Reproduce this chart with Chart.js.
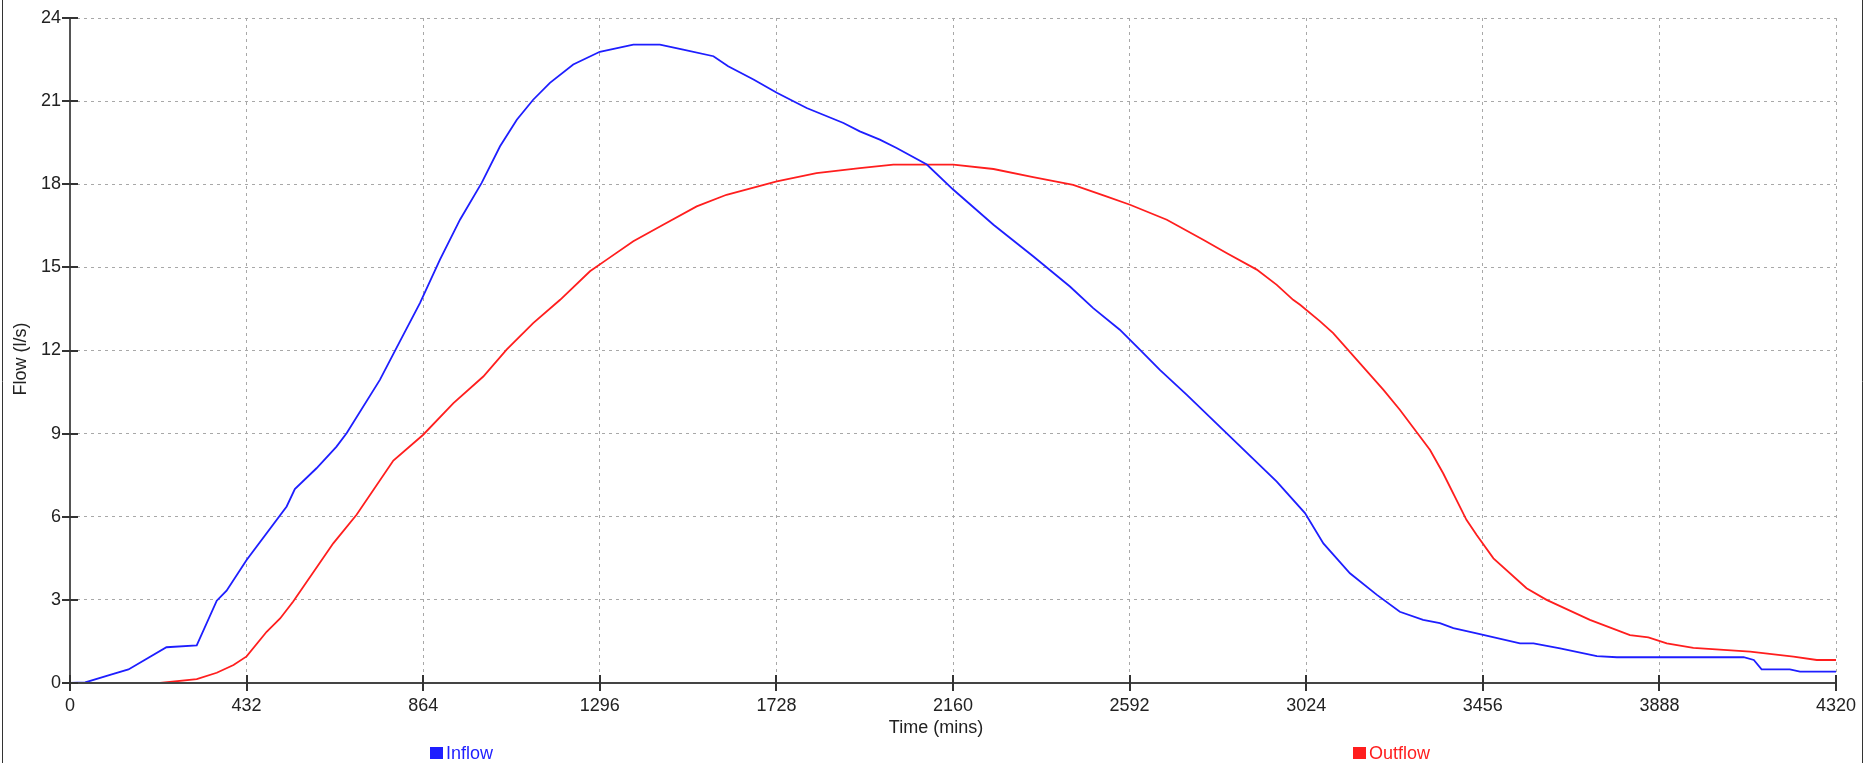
<!DOCTYPE html>
<html>
<head>
<meta charset="utf-8">
<title>Inflow / Outflow</title>
<script src="https://cdn.jsdelivr.net/npm/chart.js@4"></script>
<style>
  html, body { margin: 0; padding: 0; background: #fff; }
  #wrap { position: relative; width: 1865px; height: 763px; }
</style>
</head>
<body>
<div id="wrap"><canvas id="chart" width="1865" height="763"></canvas></div>
<script>
// time axis (mins) and flow (l/s)
const xTicks = [0, 432, 864, 1296, 1728, 2160, 2592, 3024, 3456, 3888, 4320]
const yTicks = [0, 3, 6, 9, 12, 15, 18, 21, 24]

const inflowTime = [0, 37, 98, 143, 236, 310, 359, 383, 432, 530, 550, 603, 652, 677, 758, 807, 856, 905, 954, 1007, 1052, 1093, 1133, 1174, 1231, 1296, 1378, 1443, 1500, 1574, 1610, 1672, 1729, 1802, 1892, 1932, 1981, 2022, 2096, 2161, 2259, 2356, 2446, 2503, 2568, 2617, 2666, 2732, 2829, 2952, 3021, 3066, 3131, 3197, 3253, 3310, 3351, 3384, 3441, 3547, 3580, 3645, 3735, 3784, 4094, 4119, 4138, 4207, 4232, 4320]
const inflowFlow = [0, 0.02, 0.29, 0.49, 1.29, 1.36, 2.97, 3.33, 4.44, 6.37, 7.0, 7.75, 8.53, 9.02, 10.94, 12.33, 13.71, 15.28, 16.72, 18.05, 19.37, 20.33, 21.05, 21.66, 22.32, 22.78, 23.04, 23.04, 22.86, 22.62, 22.26, 21.78, 21.3, 20.75, 20.21, 19.91, 19.61, 19.31, 18.71, 17.8, 16.54, 15.4, 14.31, 13.53, 12.75, 12.03, 11.3, 10.4, 9.02, 7.27, 6.13, 5.04, 3.96, 3.18, 2.57, 2.28, 2.16, 1.98, 1.79, 1.43, 1.43, 1.25, 0.97, 0.93, 0.93, 0.83, 0.49, 0.49, 0.41, 0.41]

const outflowTime = [0, 220, 310, 359, 400, 432, 481, 514, 546, 644, 701, 791, 864, 938, 1011, 1068, 1133, 1199, 1272, 1313, 1378, 1451, 1533, 1606, 1729, 1826, 1932, 2014, 2161, 2259, 2356, 2454, 2535, 2593, 2683, 2772, 2829, 2903, 2952, 2992, 3009, 3058, 3090, 3213, 3253, 3327, 3359, 3416, 3441, 3482, 3563, 3612, 3718, 3816, 3861, 3906, 3971, 4110, 4216, 4273, 4320]
const outflowFlow = [0, 0, 0.14, 0.37, 0.65, 0.96, 1.85, 2.33, 2.94, 5.04, 6.07, 8.03, 8.96, 10.1, 11.06, 12.03, 12.99, 13.83, 14.86, 15.28, 15.94, 16.54, 17.2, 17.62, 18.1, 18.4, 18.58, 18.71, 18.71, 18.55, 18.26, 17.98, 17.56, 17.26, 16.72, 16.0, 15.52, 14.92, 14.37, 13.83, 13.65, 13.05, 12.63, 10.58, 9.86, 8.41, 7.57, 5.89, 5.34, 4.5, 3.42, 3.0, 2.28, 1.73, 1.65, 1.43, 1.27, 1.13, 0.95, 0.83, 0.83]

const FONT = '"Liberation Sans", Arial, sans-serif'

function toPoints(xs, ys) {
    return xs.map((x, i) => ({ x: x, y: ys[i] }))
}

// axis lines, inner tick halves, axis titles, frame and the spread-out legend
const decorations = {
    id: 'decorations',
    afterDatasetsDraw(chart) {
        const ctx = chart.ctx
        const area = chart.chartArea
        const xs = chart.scales.x
        const ys = chart.scales.y
        ctx.save()
        ctx.setLineDash([])

        // axis lines (solid)
        ctx.lineWidth = 2
        ctx.strokeStyle = '#555'
        ctx.beginPath()
        ctx.moveTo(area.left, area.top - 1)
        ctx.lineTo(area.left, area.bottom + 1)
        ctx.stroke()
        ctx.strokeStyle = '#444'
        ctx.beginPath()
        ctx.moveTo(area.left - 1, area.bottom)
        ctx.lineTo(area.right + 1, area.bottom)
        ctx.stroke()

        // tick marks cross the axis lines
        ctx.strokeStyle = '#333'
        ctx.beginPath()
        xTicks.forEach(t => {
            const px = Math.round(xs.getPixelForValue(t))
            ctx.moveTo(px, area.bottom + 8)
            ctx.lineTo(px, area.bottom - 8)
        })
        yTicks.forEach(t => {
            const py = Math.round(ys.getPixelForValue(t))
            ctx.moveTo(area.left - 8, py)
            ctx.lineTo(area.left + 8, py)
        })
        ctx.stroke()

        // outer frame
        ctx.strokeStyle = '#333'
        ctx.lineWidth = 1
        ctx.beginPath()
        ctx.moveTo(2.5, 0); ctx.lineTo(2.5, 763)
        ctx.moveTo(1862.5, 0); ctx.lineTo(1862.5, 763)
        ctx.stroke()

        // axis titles
        ctx.fillStyle = '#222'
        ctx.font = '18px ' + FONT
        ctx.textAlign = 'center'
        ctx.textBaseline = 'middle'
        ctx.fillText('Time (mins)', 936, 728)
        ctx.translate(21, 359)
        ctx.rotate(-Math.PI / 2)
        ctx.fillText('Flow (l/s)', 0, 0)
        ctx.setTransform(1, 0, 0, 1, 0, 0)

        // legend
        const spots = [430, 1353]
        chart.data.datasets.forEach((ds, i) => {
            const lx = spots[i]
            ctx.fillStyle = ds.borderColor
            ctx.fillRect(lx, 747, 13, 12)
            ctx.textAlign = 'left'
            ctx.fillText(ds.label, lx + 16, 754)
        })
        ctx.restore()
    }
}

const gridStyle = {
    color: '#a8a8a8',
    lineWidth: 1,
    drawTicks: false
}

const chart = new Chart(document.getElementById('chart'), {
    type: 'line',
    data: {
        datasets: [{
            label: 'Inflow',
            data: toPoints(inflowTime, inflowFlow),
            borderColor: 'rgb(30,30,255)',
            backgroundColor: 'rgb(30,30,255)',
            borderWidth: 1.8,
            pointRadius: 0,
            tension: 0
        }, {
            label: 'Outflow',
            data: toPoints(outflowTime, outflowFlow),
            borderColor: 'rgb(255,30,30)',
            backgroundColor: 'rgb(255,30,30)',
            borderWidth: 1.8,
            pointRadius: 0,
            tension: 0
        }]
    },
    options: {
        responsive: false,
        animation: false,
        devicePixelRatio: 1,
        layout: { padding: { left: 0, top: 18, right: 29, bottom: 0 } },
        plugins: {
            legend: { display: false },
            tooltip: { enabled: false }
        },
        scales: {
            x: {
                type: 'linear',
                min: 0,
                max: 4320,
                afterBuildTicks: s => { s.ticks = xTicks.map(v => ({ value: v })) },
                afterFit: s => { s.height = 80; s.paddingLeft = 0; s.paddingRight = 0 },
                ticks: {
                    color: '#222',
                    font: { family: FONT, size: 18 },
                    padding: 12,
                    maxRotation: 0,
                    autoSkip: false,
                    callback: v => String(v)
                },
                grid: gridStyle,
                border: { display: false, dash: [3, 4] }
            },
            y: {
                min: 0,
                max: 24,
                afterBuildTicks: s => { s.ticks = yTicks.map(v => ({ value: v })) },
                afterFit: s => { s.width = 70; s.paddingTop = 0; s.paddingBottom = 0 },
                ticks: {
                    color: '#222',
                    font: { family: FONT, size: 18 },
                    padding: 9,
                    callback: v => String(v)
                },
                grid: gridStyle,
                border: { display: false, dash: [3, 4] }
            }
        }
    },
    plugins: [decorations]
})
</script>
</body>
</html>
